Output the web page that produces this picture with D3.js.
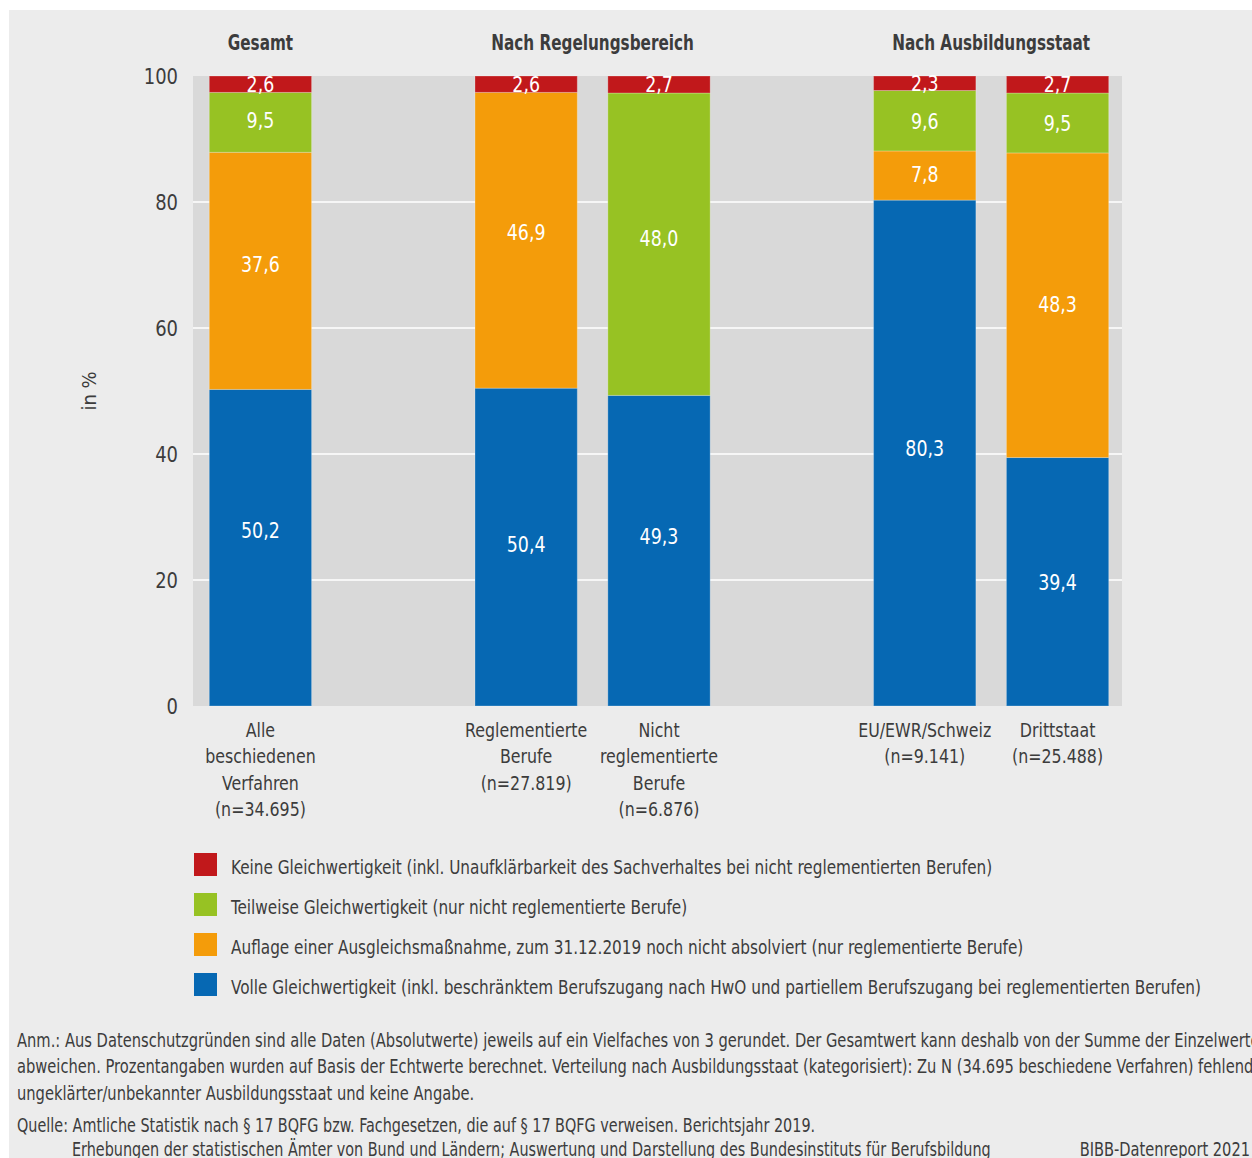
<!DOCTYPE html>
<html>
<head>
<meta charset="utf-8">
<script src="https://cdn.jsdelivr.net/npm/d3@7"></script>
<style>
html,body{margin:0;padding:0;overflow:hidden;background:#fff;}
svg{display:block;}
text{font-family:"DejaVu Sans Condensed","DejaVu Sans","Roboto",sans-serif;}
</style>
</head>
<body>
<svg id="chart" width="1252" height="1158"></svg>
<script>
// ---------- DATA ----------
const slots = ["gesamt", "gap1", "reg", "nicht", "gap2", "eu", "dritt"];
const categories = ["gesamt", "reg", "nicht", "eu", "dritt"];
const categoryLabels = [
  ["Alle", "beschiedenen", "Verfahren", "(n=34.695)"],
  ["Reglementierte", "Berufe", "(n=27.819)"],
  ["Nicht", "reglementierte", "Berufe", "(n=6.876)"],
  ["EU/EWR/Schweiz", "(n=9.141)"],
  ["Drittstaat", "(n=25.488)"]
];
const groupTitles = ["Gesamt", "Nach Regelungsbereich", "Nach Ausbildungsstaat"];
const groupMembers = [["gesamt"], ["reg", "nicht"], ["eu", "dritt"]];

const seriesNames = [
  "Volle Gleichwertigkeit (inkl. beschränktem Berufszugang nach HwO und partiellem Berufszugang bei reglementierten Berufen)",
  "Auflage einer Ausgleichsmaßnahme, zum 31.12.2019 noch nicht absolviert (nur reglementierte Berufe)",
  "Teilweise Gleichwertigkeit (nur nicht reglementierte Berufe)",
  "Keine Gleichwertigkeit (inkl. Unaufklärbarkeit des Sachverhaltes bei nicht reglementierten Berufen)"
];
const volle    = [50.2, 50.4, 49.3, 80.3, 39.4];
const auflage  = [37.6, 46.9, 0,    7.8,  48.3];
const teilweise= [9.5,  0,    48.0, 9.6,  9.5];
const keine    = [2.6,  2.6,  2.7,  2.3,  2.7];
const seriesValues = [volle, auflage, teilweise, keine];
const seriesColors = ["#0668b3", "#f49c0a", "#97c223", "#c1181b"];

const yTicks = [0, 20, 40, 60, 80, 100];
const yTitle = "in %";

const noteLines = [
  "Anm.: Aus Datenschutzgründen sind alle Daten (Absolutwerte) jeweils auf ein Vielfaches von 3 gerundet. Der Gesamtwert kann deshalb von der Summe der Einzelwerte",
  "abweichen. Prozentangaben wurden auf Basis der Echtwerte berechnet. Verteilung nach Ausbildungsstaat (kategorisiert): Zu N (34.695 beschiedene Verfahren) fehlende",
  "ungeklärter/unbekannter Ausbildungsstaat und keine Angabe."
];
const sourceLines = [
  "Quelle: Amtliche Statistik nach § 17 BQFG bzw. Fachgesetzen, die auf § 17 BQFG verweisen. Berichtsjahr 2019.",
  "Erhebungen der statistischen Ämter von Bund und Ländern; Auswertung und Darstellung des Bundesinstituts für Berufsbildung"
];
const credit = "BIBB-Datenreport 2021";

// ---------- LAYOUT / STYLE ----------
const W = 1252, H = 1158;
const plot = {x0: 193, x1: 1122, y0: 76, y1: 706};
const textColor = "#3c3c3c";
// manual vertical nudges (px) of the value labels, as in the original layout
const labelNudge = [
  [-18, -3, -15, -5, 0],
  [-7, -8, 0, -1, -1],
  [-2, 0, -6, 0, 0],
  [0, 0, 0, 0, 0]
];
const svg = d3.select("#chart");

// condensed text helper: horizontal squeeze to mimic the condensed typeface
function ctext(parent, x, y, str, o) {
  const g = parent.append("g").attr("transform", `translate(${x},${y}) scale(${o.sx || 1},1)`);
  const t = g.append("text").attr("x", 0).attr("y", 0)
    .attr("font-size", o.size).attr("fill", o.fill || textColor)
    .attr("text-anchor", o.anchor || "start");
  if (o.weight) t.attr("font-weight", o.weight);
  if (o.dy) t.attr("dy", o.dy);
  if (str !== null) t.text(str);
  return t;
}

svg.append("rect").attr("x", 9).attr("y", 10).attr("width", W - 9).attr("height", H - 10).attr("fill", "#ececec");
svg.append("rect").attr("x", plot.x0).attr("y", plot.y0).attr("width", plot.x1 - plot.x0).attr("height", plot.y1 - plot.y0).attr("fill", "#d9d9d9");

const x = d3.scaleBand().domain(slots).range([plot.x0 + 1, plot.x1 + 2]).paddingInner(0.23).paddingOuter(0.115);
const y = d3.scaleLinear().domain([0, 100]).range([plot.y1, plot.y0]);

// grid
svg.append("g").selectAll("line").data(yTicks.filter(t => t > 0 && t < 100)).join("line")
  .attr("x1", plot.x0).attr("x2", plot.x1).attr("y1", d => y(d)).attr("y2", d => y(d))
  .attr("stroke", "#ffffff").attr("stroke-width", 1.3);

// y axis (ticks from the scale)
const yAxis = d3.axisLeft(y).tickValues(yTicks).tickSize(0).tickPadding(0).tickFormat(d3.format("d"));
const yg = svg.append("g").attr("transform", `translate(178,0)`).call(yAxis);
yg.select(".domain").remove();
yg.selectAll(".tick text").attr("font-size", 21).attr("fill", textColor).attr("font-family", null)
  .attr("dy", "0.36em").attr("transform", "scale(0.95,1)");

svg.append("text").attr("transform", `translate(96,${(plot.y0 + plot.y1) / 2}) rotate(-90)`)
  .attr("text-anchor", "middle").attr("font-size", 20).attr("fill", textColor).text(yTitle);

// stacked data (normalized to 100 %)
const rows = categories.map((c, i) => {
  const r = {cat: c, idx: i};
  seriesValues.forEach((s, k) => r["s" + k] = s[i]);
  return r;
});
const stack = d3.stack().keys(seriesValues.map((s, k) => "s" + k)).offset(d3.stackOffsetExpand);
const layers = stack(rows);

const lg = svg.append("g");
layers.forEach((layer, k) => {
  lg.append("g").selectAll("rect").data(layer.filter(d => d[1] > d[0])).join("rect")
    .attr("x", d => x(d.data.cat)).attr("width", x.bandwidth())
    .attr("y", d => y(d[1] * 100)).attr("height", d => y(d[0] * 100) - y(d[1] * 100))
    .attr("fill", seriesColors[k])
    .attr("stroke", "#ffffff").attr("stroke-opacity", 0.25).attr("stroke-width", 1);
});
layers.forEach((layer, k) => {
  layer.forEach(d => {
    const v = seriesValues[k][d.data.idx];
    if (!(v > 0)) return;
    ctext(lg, x(d.data.cat) + x.bandwidth() / 2,
      y((d[0] + d[1]) / 2 * 100) + labelNudge[k][d.data.idx],
      d3.format(".1f")(v).replace(".", ","),
      {size: 22, sx: 0.88, anchor: "middle", fill: "#ffffff", dy: "0.36em"});
  });
});

// x labels
categories.forEach((c, i) => {
  const t = ctext(svg, x(c) + x.bandwidth() / 2, 0, null, {size: 20, sx: 0.88, anchor: "middle"});
  categoryLabels[i].forEach((line, j) => {
    t.append("tspan").attr("x", 0).attr("y", 737 + j * 26.3).text(line);
  });
});

// group titles
groupTitles.forEach((g, i) => {
  const m = groupMembers[i];
  const cx = (x(m[0]) + x(m[m.length - 1]) + x.bandwidth()) / 2;
  ctext(svg, cx, 50, g, {size: 22, sx: 0.77, anchor: "middle", weight: "bold"});
});

// legend (top: keine -> bottom: volle)
const legendOrder = [3, 2, 1, 0];
legendOrder.forEach((k, j) => {
  const cy = 864.5 + j * 40;
  svg.append("rect").attr("x", 194).attr("y", cy - 11.5).attr("width", 23).attr("height", 23).attr("fill", seriesColors[k]);
  ctext(svg, 231, cy + 9.5, seriesNames[k], {size: 20, sx: 0.85});
});

// notes
noteLines.forEach((l, i) => {
  ctext(svg, 17, 1047 + i * 26.3, l, {size: 19.5, sx: 0.838});
});
ctext(svg, 17, 1132, sourceLines[0], {size: 19.5, sx: 0.82});
ctext(svg, 72, 1156, sourceLines[1], {size: 19.5, sx: 0.82});
ctext(svg, 1250, 1156, credit, {size: 19.5, sx: 0.834, anchor: "end"});
</script>
</body>
</html>
